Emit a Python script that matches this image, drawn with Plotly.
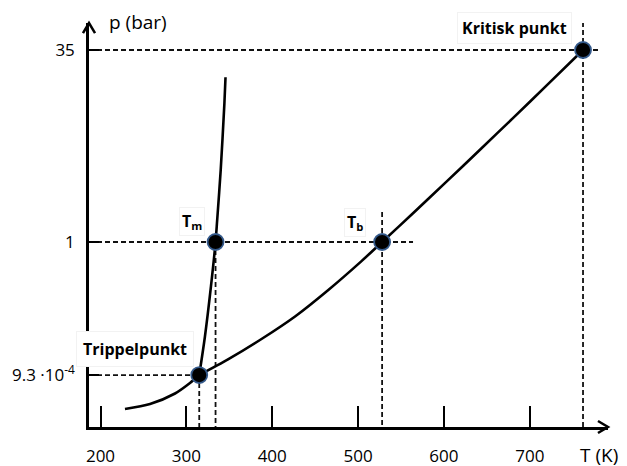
import numpy as np
import plotly.graph_objects as go

# ---------------- data ----------------
# Schematic pressure axis: plotted as p**EXP
EXP = 0.21

# Sublimation curve (solid - gas)
T_sub = [228.5, 257.7, 286.8, 304.2, 315]
p_sub = [1.1e-7, 2.0e-6, 4.87e-5, 3.23e-4, 9.3e-4]

# Vaporisation curve (liquid - gas), triple point -> critical point
T_vap = [315, 349, 388, 427, 465, 504, 528, 564, 603, 642, 681, 720, 762]
p_vap = [9.3e-4, 4.57e-3, 0.0202, 0.0694, 0.211, 0.573, 1.0, 2.08, 4.16, 7.65, 13.2, 21.6, 35.0]

# Melting curve (solid - liquid)
T_melt = [315, 321.6, 328.6, 334, 335.9, 340.0, 344.3, 345.6]
p_melt = [9.3e-4, 0.0229, 0.241, 1.0, 1.77, 5.24, 16.5, 24.2]

# Special points
point_names = ["Trippelpunkt", "T_m", "T_b", "Kritisk punkt"]
T_points = [315, 334, 528, 762]
p_points = [9.3e-4, 1.0, 1.0, 35.0]

# Ticks
x_ticks = [200, 300, 400, 500, 600, 700]
p_ticks = [9.3e-4, 1.0, 35.0]
p_tick_labels = ["9.3 ·10<sup>-4</sup>", "1", "35"]


def s(p):
    return np.asarray(p, dtype=float) ** EXP


X_MIN, X_MAX = 186.6, 791.1
Y_MIN, Y_MAX = -0.0694, 2.266

FONT = "Open Sans"
fig = go.Figure()

dash_style = dict(color="#111111", width=1.8, dash="5px,3px")

tp, tm, tb, kp = [(T_points[i], float(s(p_points[i]))) for i in range(4)]
guides = [
    ([X_MIN, 782], [kp[1], kp[1]]),             # 35 bar
    ([kp[0], kp[0]], [Y_MIN, Y_MAX]),           # critical T
    ([X_MIN, 564], [tm[1], tm[1]]),             # 1 bar
    ([tm[0], tm[0]], [tm[1], Y_MIN]),           # Tm
    ([tb[0], tb[0]], [float(s(2.14)), Y_MIN]),  # Tb
    ([X_MIN, tp[0]], [tp[1], tp[1]]),           # triple p
    ([tp[0], tp[0]], [tp[1], Y_MIN]),           # triple T
]
for gx, gy in guides:
    fig.add_trace(go.Scatter(x=gx, y=gy, mode="lines", line=dash_style,
                             hoverinfo="skip", showlegend=False))

curve_style = dict(color="black", width=2.6, shape="spline", smoothing=0.8)
for T, p in [(T_sub, p_sub), (T_vap, p_vap), (T_melt, p_melt)]:
    fig.add_trace(go.Scatter(x=T, y=s(p), mode="lines", line=curve_style,
                             showlegend=False))

fig.add_trace(go.Scatter(
    x=T_points, y=s(p_points), mode="markers", showlegend=False,
    marker=dict(size=16, color="black", line=dict(color="#34598a", width=1.8)),
))

# point labels
label_font = dict(family=FONT, size=16, color="black")
labels = [
    (tp, "<b>Trippelpunkt</b>", -64, 26, 6),
    (tm, "<b>T<sub>m</sub></b>", -24, 21, 2),
    (tb, "<b>T<sub>b</sub></b>", -27, 20, 2),
    (kp, "<b>Kritisk punkt</b>", -69, 22, 4),
]
for (lx, ly), txt, xs, ys, pad in labels:
    fig.add_annotation(x=lx, y=ly, xref="x", yref="y", text=txt, showarrow=False,
                       xshift=xs, yshift=ys, font=label_font, bgcolor="white",
                       bordercolor="#f2f2f2", borderwidth=1, borderpad=pad)

# axis titles
fig.add_annotation(x=0.0347, y=1.0025, xref="paper", yref="paper", text="p (bar)",
                   showarrow=False, xanchor="left", yanchor="middle",
                   font=dict(family=FONT, size=19, color="black"))
fig.add_annotation(x=0.942, y=-0.0693, xref="paper", yref="paper", text="T (K)",
                   showarrow=False, xanchor="left", yanchor="middle",
                   font=dict(family=FONT, size=19, color="black"))

# arrow heads
fig.add_shape(type="path", xref="paper", yref="paper",
              path="M -0.0116 0.975 L 0 1 L 0.0116 0.975",
              line=dict(color="black", width=2.5))
fig.add_shape(type="path", xref="paper", yref="paper",
              path="M 0.9807 0.0149 L 1 0 L 0.9807 -0.0149",
              line=dict(color="black", width=2.5))

# page body has an 8px default margin -> shift the figure's own margins
fig.update_layout(
    width=627, height=466,
    margin=dict(l=81, r=27, t=15, b=47, pad=0, autoexpand=False),
    plot_bgcolor="white", paper_bgcolor="white",
    showlegend=False,
    font=dict(family=FONT, size=17, color="black"),
    xaxis=dict(range=[X_MIN, X_MAX], tickvals=x_ticks, ticks="inside", ticklen=21,
               tickwidth=2, tickcolor="black", showline=True, linewidth=2.5,
               linecolor="black", showgrid=False, zeroline=False, automargin=False,
               ticklabelstandoff=12, tickfont=dict(family=FONT, size=17)),
    yaxis=dict(range=[Y_MIN, Y_MAX], tickvals=list(s(p_ticks)), ticktext=p_tick_labels,
               ticks="inside", ticklen=10, tickwidth=2, tickcolor="black",
               showline=True, linewidth=2.5, linecolor="black", showgrid=False,
               zeroline=False, automargin=False, ticklabelstandoff=8,
               tickfont=dict(family=FONT, size=17)),
)

fig.write_html("out.html")
